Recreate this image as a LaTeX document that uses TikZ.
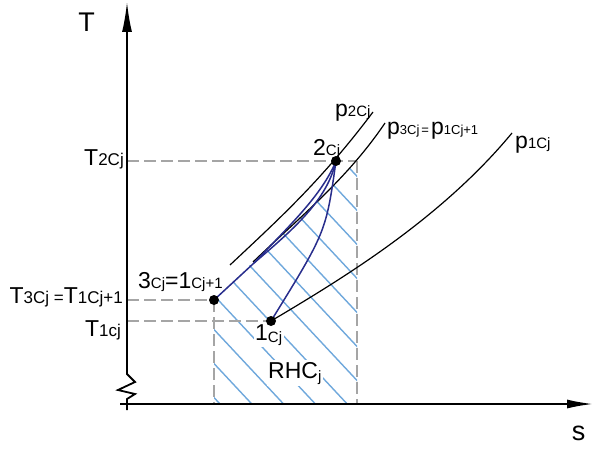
\documentclass[tikz,border=0pt]{standalone}
\usepackage{fontspec}
\setmainfont{Liberation Sans}
\usetikzlibrary{arrows.meta}
\newcommand\mylg{\fontsize{23}{23}\selectfont}
\newcommand\mysm{\fontsize{15}{15}\selectfont}
\newcommand\mysmb{\fontsize{17}{17}\selectfont}
\newcommand\mysmc{\fontsize{13}{13}\selectfont}
\newcommand\myax{\fontsize{27}{27}\selectfont}
\definecolor{hatchblue}{RGB}{111,168,220}
\definecolor{procblue}{RGB}{40,45,140}
\definecolor{dashgray}{RGB}{165,165,165}
\begin{document}
\begin{tikzpicture}[x=1pt,y=-1pt,
  axis/.style={line width=1.8pt, black},
  isobar/.style={line width=1.2pt, black},
  proc/.style={line width=1.5pt, procblue},
  hatchline/.style={line width=1.4pt, hatchblue},
  guide/.style={line width=1.4pt, dashgray, dash pattern=on 12pt off 5pt},
  dot/.style={circle, fill=black, inner sep=0pt, minimum size=10pt},
  lbl/.style={inner sep=0pt, font=\mylg},
]
\useasboundingbox (0,0) rectangle (593,449);
% key coordinates
\coordinate (c1) at (271,321);
\coordinate (c2) at (336,161);
\coordinate (c3) at (214,300);
\coordinate (M) at (254,263);
\coordinate (Ybot) at (127,410);
\coordinate (Ytop) at (127,2);
\coordinate (Xl) at (120,404);
\coordinate (Xr) at (593,404);
\coordinate (A2) at (127,161);
\coordinate (R2) at (357,161);
\coordinate (A3) at (127,300);
\coordinate (A1) at (127,321);
\coordinate (B3) at (214,404);
\coordinate (BR) at (357,404);
\coordinate (p2a) at (230,265);
\coordinate (p2b) at (373,112);
\coordinate (p3a) at (253,262);
\coordinate (p3b) at (385,123);
\coordinate (p1b) at (512,133);
% hatching
\begin{scope}
\clip (B3) -- (c3) -- (p3a) .. controls (290,226) and (327,192) .. (R2) -- (BR) -- cycle;
\foreach \k in {0,...,12} {\draw[hatchline] ({220+31.8*\k+30},{404+30*1.07}) -- ({220+31.8*\k-280},{404-280*1.07});}
\end{scope}
% labels with white background inside hatch
\node[lbl, anchor=base west, fill=white, inner sep=1.5pt] (L1) at (253.5,340) {1{\mysm\raisebox{-2pt}{Cj}}};
\node[lbl, anchor=base west, fill=white, inner sep=1.5pt] (RH) at (266.5,378) {RHC{\mysm\raisebox{-3pt}{j}}};
% guides
\draw[guide] (A2) -- (R2);
\draw[guide] (R2) -- (BR);
\draw[guide] (A3) -- (c3);
\draw[guide] (c3) -- (B3);
\draw[guide] (A1) -- (c1);
% isobars
\draw[isobar] (p2a) .. controls (280,218) and (321,181) .. (p2b);
\draw[isobar] (p3a) .. controls (300,217) and (348,178) .. (p3b);
\draw[isobar] (c1) .. controls (340,280) and (440,220) .. (p1b);
% processes
\draw[proc] (c3) -- (M);
\draw[proc] (M) .. controls (290,225) and (322,195) .. (c2);
\draw[proc] (M) .. controls (295,228) and (327,200) .. (c2);
\draw[proc] (c1) .. controls (326,232) .. (c2);
% dots
\node[dot] (d1) at (c1) {};
\node[dot] (d2) at (c2) {};
\node[dot] (d3) at (c3) {};
% labels
\node[lbl, font=\myax] (Tlab) at (86.5,22) {T};
\node[lbl, font=\myax] (slab) at (578.5,433.5) {s};
\node[lbl, anchor=base east] (T2) at (124,165.7) {T{\mysmb 2Cj}};
\node[lbl, anchor=base east] (T3) at (123,303) {T{\mysmb 3Cj =}T{\mysmb 1Cj+1}};
\node[lbl, anchor=base east] (T1) at (121,336) {T{\mysmb 1cj}};
\node[lbl, anchor=base west] (L3) at (138,288) {3{\mysm Cj}=1{\mysm Cj+1}};
\node[lbl, anchor=base west] (L2) at (313,155) {2{\mysm Cj}};
\node[lbl, anchor=base west] (Lp2) at (335,117) {p{\mysm 2Cj}};
\node[lbl, anchor=base west] (Lp3) at (387,135) {p{\mysmc 3Cj\kern2pt=\kern2pt}p{\mysmc 1Cj+1}};
\node[lbl, anchor=base west] (Lp1) at (515,148) {p{\mysm 1Cj}};
% axes
\draw[axis, -{Latex[length=30pt,width=10pt]}] (Ybot) -- (127,399) -- (135,394) -- (118,390) -- (135,382) -- (127,374) -- (Ytop);
\draw[axis, -{Latex[length=26pt,width=9pt]}] (Xl) -- (Xr);
\end{tikzpicture}
\end{document}
